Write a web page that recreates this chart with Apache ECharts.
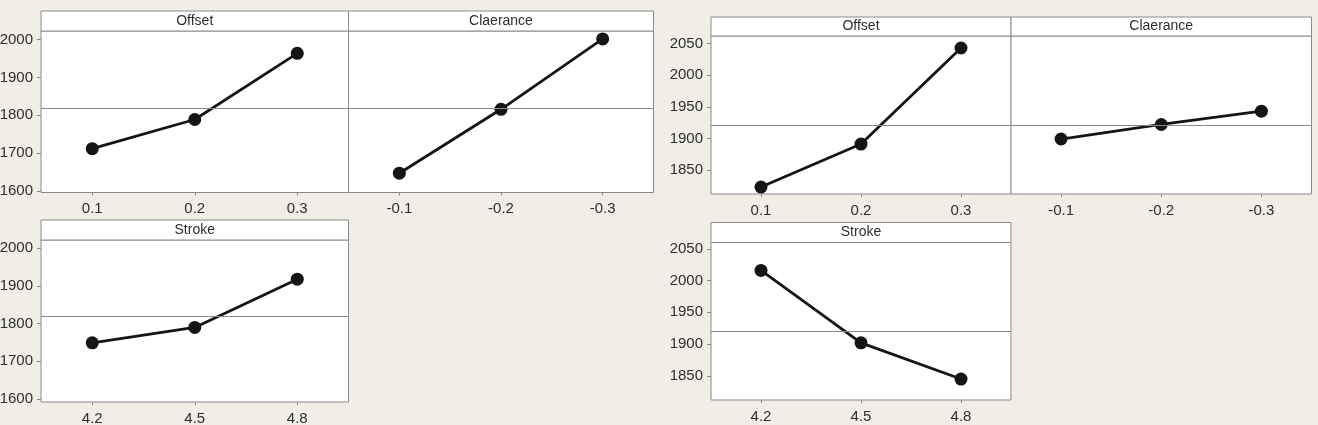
<!DOCTYPE html>
<html lang="en">
<head>
    <meta charset="UTF-8">
    <title>Main effects plots</title>
    <style>
        *{ padding: 0; margin: 0; box-sizing: border-box; }
        html, body{ width: 100%; height: 100%; background: #f0eee7; }
        #main{ width: 1318px; height: 425px; }
    </style>
</head>
<body>
<div id="main"></div>
<script src="https://cdn.jsdelivr.net/npm/echarts@6/dist/echarts.min.js"></script>
<script type="text/javascript">
    // factor levels
    var offsetLevels = ['0.1', '0.2', '0.3'];
    var clearanceLevels = ['-0.1', '-0.2', '-0.3'];
    var strokeLevels = ['4.2', '4.5', '4.8'];

    // means
    var leftOffset = [1712, 1789, 1964];
    var leftClearance = [1647, 1816, 2002];
    var leftStroke = [1749, 1790, 1918];
    var leftMean = 1820;
    var leftTicks = [1600, 1700, 1800, 1900, 2000];

    // means
    var rightOffset = [1823, 1891, 2043];
    var rightClearance = [1899, 1922, 1943];
    var rightStroke = [2016, 1902, 1845];
    var rightMean = 1920.5;
    var rightTicks = [1850, 1900, 1950, 2000, 2050];

    var font = '"Liberation Sans", Arial, sans-serif';
    var frame = '#8a8a8a';
    var ink = '#2e2e2e';

    // panel boxes: x, y of the strip top, width, strip height, plot height
    var panels = [
        {x: 41, y: 11, w: 307.5, strip: 20, h: 161.5, title: 'Offset', cats: offsetLevels, data: leftOffset, mean: leftMean, ticks: leftTicks, min: 1596, max: 2023, yLabels: true},
        {x: 348.5, y: 11, w: 305, strip: 20, h: 161.5, title: 'Claerance', cats: clearanceLevels, data: leftClearance, mean: leftMean, ticks: leftTicks, min: 1596, max: 2023, yLabels: false},
        {x: 41, y: 220, w: 307.5, strip: 20, h: 162, title: 'Stroke', cats: strokeLevels, data: leftStroke, mean: leftMean, ticks: leftTicks, min: 1592, max: 2022, yLabels: true},
        {x: 711, y: 17, w: 300, strip: 19, h: 158, title: 'Offset', cats: offsetLevels, data: rightOffset, mean: rightMean, ticks: rightTicks, min: 1812, max: 2062, yLabels: true},
        {x: 1011, y: 17, w: 300.5, strip: 19, h: 158, title: 'Claerance', cats: clearanceLevels, data: rightClearance, mean: rightMean, ticks: rightTicks, min: 1812, max: 2062, yLabels: false},
        {x: 711, y: 222.5, w: 300, strip: 20, h: 157.5, title: 'Stroke', cats: strokeLevels, data: rightStroke, mean: rightMean, ticks: rightTicks, min: 1812, max: 2060, yLabels: true}
    ];

    var grids = [], xAxes = [], yAxes = [], series = [], graphics = [];

    panels.forEach(function (p, i) {
        grids.push({
            left: p.x, top: p.y + p.strip, width: p.w, height: p.h,
            outerBoundsMode: 'none', containLabel: false,
            show: true, backgroundColor: '#ffffff', borderColor: frame, borderWidth: 1
        });
        xAxes.push({
            type: 'category', gridIndex: i, data: p.cats, boundaryGap: true,
            axisLine: {show: false},
            axisTick: {show: true, alignWithLabel: true, length: 3, lineStyle: {color: frame}},
            axisLabel: {color: ink, fontFamily: font, fontSize: 15, margin: 9},
            splitLine: {show: false}
        });
        yAxes.push({
            type: 'value', gridIndex: i, min: p.min, max: p.max,
            axisLine: {show: false},
            axisTick: {show: p.yLabels, length: 4, customValues: p.ticks, lineStyle: {color: frame}},
            axisLabel: {
                show: p.yLabels, customValues: p.ticks, color: ink, fontFamily: font, fontSize: 15, margin: 8,
                formatter: function (v) { return String(v); }
            },
            splitLine: {show: false}
        });
        series.push({
            type: 'line', xAxisIndex: i, yAxisIndex: i, data: p.data,
            symbol: 'circle', symbolSize: 13,
            lineStyle: {color: '#151515', width: 2.8},
            itemStyle: {color: '#151515'},
            silent: true, animation: false,
            markLine: {
                silent: true, symbol: 'none', label: {show: false},
                lineStyle: {color: frame, type: 'solid', width: 1},
                data: [{yAxis: p.mean}]
            }
        });
        // strip header above each panel
        graphics.push({
            type: 'rect', silent: true,
            shape: {x: p.x, y: p.y, width: p.w, height: p.strip},
            style: {fill: '#ffffff', stroke: frame, lineWidth: 1}
        });
        graphics.push({
            type: 'text', silent: true,
            x: p.x + p.w / 2, y: p.y + p.strip / 2,
            style: {text: p.title, fill: ink, font: '14px ' + font, align: 'center', verticalAlign: 'middle'}
        });
    });

    var myChart = echarts.init(document.getElementById('main'));
    myChart.setOption({
        backgroundColor: '#f0eee7',
        animation: false,
        grid: grids,
        xAxis: xAxes,
        yAxis: yAxes,
        series: series,
        graphic: graphics
    });
</script>
</body>
</html>
